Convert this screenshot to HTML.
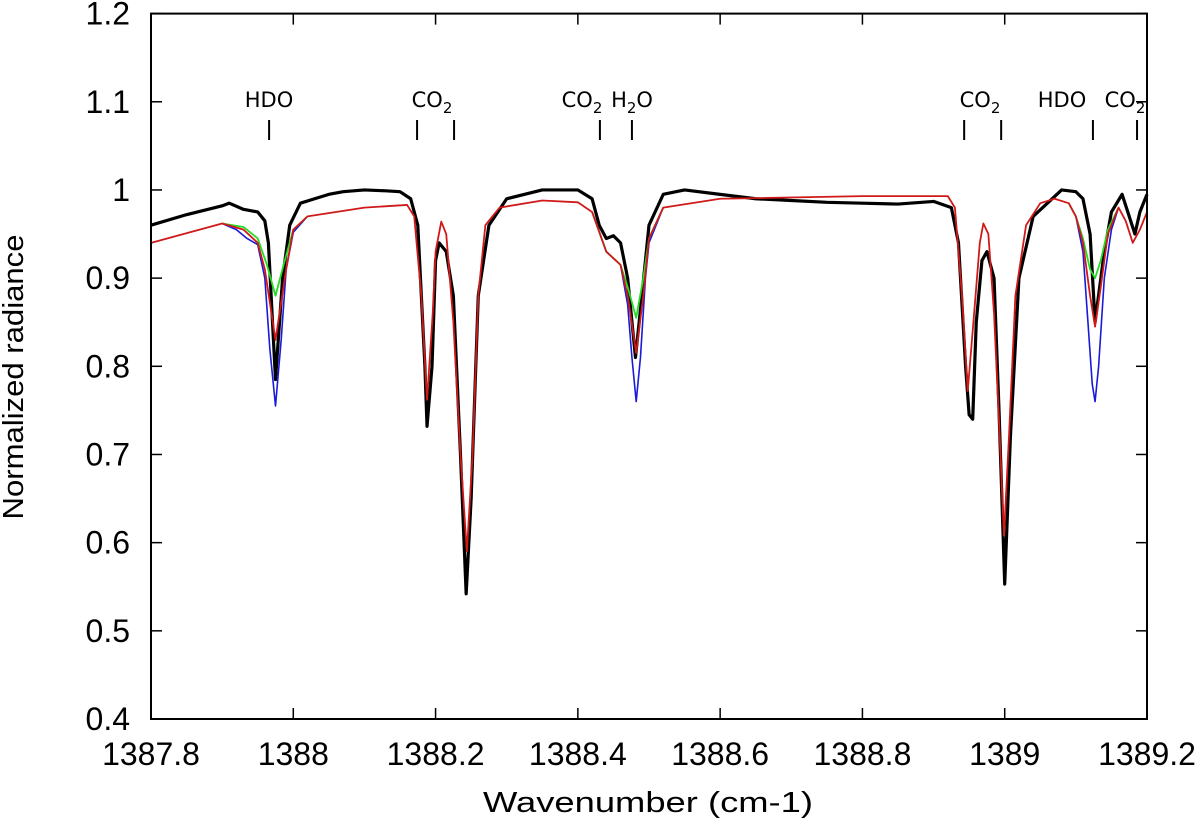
<!DOCTYPE html>
<html><head><meta charset="utf-8"><style>
body{margin:0;background:#fff;}
svg{display:block;font-family:"Liberation Sans",sans-serif;}
.ann{font-family:"DejaVu Sans","Liberation Sans",sans-serif;font-size:21px;}
</style></head><body>
<svg id="chart" width="1200" height="826" viewBox="0 0 1200 826" xmlns="http://www.w3.org/2000/svg">
<g id="series"></g>
<g id="axes"></g>
<g id="ann"></g>
</svg>
<script>
const xTicks=[1387.8,1388,1388.2,1388.4,1388.6,1388.8,1389,1389.2];
const xTickLabels=["1387.8","1388","1388.2","1388.4","1388.6","1388.8","1389","1389.2"];
const yTicks=[0.4,0.5,0.6,0.7,0.8,0.9,1,1.1,1.2];
const yTickLabels=["0.4","0.5","0.6","0.7","0.8","0.9","1","1.1","1.2"];
const obsX=[1387.8,1387.85,1387.9,1387.91,1387.93,1387.95,1387.96,1387.965,1387.975,1387.985,1387.995,1388.01,1388.03,1388.05,1388.07,1388.1,1388.13,1388.15,1388.165,1388.175,1388.185,1388.188,1388.195,1388.2,1388.205,1388.215,1388.225,1388.235,1388.243,1388.25,1388.26,1388.275,1388.3,1388.35,1388.4,1388.42,1388.43,1388.44,1388.45,1388.46,1388.47,1388.481,1388.49,1388.5,1388.52,1388.55,1388.6,1388.65,1388.7,1388.75,1388.8,1388.85,1388.9,1388.925,1388.935,1388.945,1388.95,1388.955,1388.96,1388.968,1388.975,1388.985,1388.992,1389.0,1389.008,1389.02,1389.04,1389.06,1389.08,1389.1,1389.11,1389.12,1389.127,1389.14,1389.15,1389.165,1389.175,1389.183,1389.19,1389.2];
const obsY=[0.96,0.972,0.982,0.985,0.978,0.975,0.965,0.94,0.785,0.9,0.96,0.985,0.99,0.995,0.998,1.0,0.999,0.998,0.99,0.96,0.8,0.732,0.8,0.92,0.94,0.93,0.88,0.7,0.542,0.65,0.88,0.96,0.99,1.0,1.0,0.99,0.96,0.945,0.948,0.94,0.9,0.81,0.88,0.96,0.995,1.0,0.995,0.99,0.988,0.986,0.985,0.984,0.987,0.98,0.94,0.8,0.745,0.74,0.85,0.92,0.93,0.9,0.75,0.553,0.72,0.9,0.97,0.985,1.0,0.998,0.99,0.95,0.85,0.93,0.975,0.995,0.97,0.95,0.975,0.995];
const redX=[1387.8,1387.9,1387.93,1387.95,1387.96,1387.975,1387.99,1388.0,1388.02,1388.1,1388.16,1388.17,1388.18,1388.188,1388.196,1388.2,1388.208,1388.215,1388.225,1388.235,1388.244,1388.252,1388.26,1388.27,1388.29,1388.35,1388.4,1388.42,1388.44,1388.46,1388.47,1388.482,1388.492,1388.5,1388.52,1388.6,1388.8,1388.92,1388.93,1388.94,1388.948,1388.956,1388.965,1388.97,1388.977,1388.985,1388.993,1388.999,1389.006,1389.015,1389.03,1389.05,1389.07,1389.09,1389.1,1389.11,1389.12,1389.127,1389.135,1389.145,1389.16,1389.17,1389.18,1389.19,1389.2];
const redY=[0.94,0.962,0.955,0.94,0.91,0.83,0.91,0.955,0.97,0.98,0.983,0.97,0.88,0.762,0.86,0.93,0.964,0.95,0.85,0.7,0.59,0.7,0.88,0.96,0.98,0.988,0.986,0.975,0.93,0.915,0.88,0.815,0.88,0.945,0.98,0.99,0.993,0.993,0.98,0.88,0.772,0.85,0.94,0.962,0.95,0.86,0.72,0.608,0.72,0.88,0.96,0.985,0.99,0.985,0.97,0.94,0.88,0.845,0.89,0.95,0.98,0.965,0.94,0.955,0.975];
const greenX=[1387.9,1387.93,1387.95,1387.963,1387.975,1387.988,1388.0,1388.02,null,1388.42,1388.44,1388.46,1388.47,1388.482,1388.492,1388.5,1388.52,null,1389.09,1389.1,1389.11,1389.12,1389.127,1389.135,1389.145,1389.16];
const greenY=[0.962,0.958,0.945,0.915,0.88,0.92,0.955,0.97,null,0.975,0.93,0.915,0.89,0.855,0.9,0.945,0.98,null,0.985,0.97,0.945,0.91,0.9,0.92,0.955,0.98];
const blueX=[1387.9,1387.92,1387.935,1387.95,1387.96,1387.967,1387.975,1387.983,1387.99,1388.0,1388.02,null,1388.42,1388.44,1388.46,1388.47,1388.476,1388.482,1388.488,1388.495,1388.5,1388.52,null,1389.09,1389.1,1389.11,1389.117,1389.123,1389.127,1389.132,1389.14,1389.15,1389.16];
const blueY=[0.962,0.955,0.945,0.938,0.9,0.82,0.755,0.83,0.91,0.952,0.97,null,0.975,0.93,0.915,0.87,0.81,0.76,0.81,0.9,0.94,0.98,null,0.985,0.97,0.93,0.85,0.78,0.76,0.8,0.9,0.955,0.98];
const annTicks=[1387.966,1388.174,1388.226,1388.431,1388.476,1388.943,1388.995,1389.124,1389.186];

const L=151,R=1147,T=13.6,B=719;
const xs=v=>L+(v-1387.8)/1.4*(R-L);
const ys=v=>B-(v-0.4)/0.8*(B-T);
const NS="http://www.w3.org/2000/svg";
function mk(tag,attrs,parent){const e=document.createElementNS(NS,tag);for(const k in attrs)e.setAttribute(k,attrs[k]);parent.appendChild(e);return e;}
const axes=document.getElementById('axes'),ser=document.getElementById('series'),ann=document.getElementById('ann');

function line(xa,ya,color,w,name){
  let d='',pen=false;
  xa.forEach((x,i)=>{
    if(x===null){pen=false;return;}
    d+=(pen?'L':'M')+xs(x).toFixed(2)+','+ys(ya[i]).toFixed(2)+' ';pen=true;
  });
  const p=mk('path',{d:d,fill:'none',stroke:color,'stroke-width':w,'stroke-linejoin':'round'},ser);
  
  
}
line(obsX,obsY,'#000',3.2,'observed-spectrum-line');
line(blueX,blueY,'#1a1ad8',1.6,'model-blue-line');
line(greenX,greenY,'#22dd22',1.8,'model-green-line');
line(redX,redY,'#d01a1a',1.8,'model-red-line');

const frame=mk('rect',{x:L,y:T,width:R-L,height:B-T,fill:'none',stroke:'#000','stroke-width':2},axes);


xTicks.forEach((v,i)=>{
  const x=xs(v);
  mk('line',{x1:x,x2:x,y1:B,y2:B-11,stroke:'#000','stroke-width':1.5},axes);
  mk('line',{x1:x,x2:x,y1:T,y2:T+11,stroke:'#000','stroke-width':1.5},axes);
  const t=mk('text',{x:x,y:765,'text-anchor':'middle','font-size':32},axes);
  t.textContent=xTickLabels[i];
  
  
});
yTicks.forEach((v,i)=>{
  const y=ys(v);
  mk('line',{x1:L,x2:L+11,y1:y,y2:y,stroke:'#000','stroke-width':1.5},axes);
  mk('line',{x1:R,x2:R-11,y1:y,y2:y,stroke:'#000','stroke-width':1.5},axes);
  const t=mk('text',{x:130,y:y+11,'text-anchor':'end','font-size':32},axes);
  t.textContent=yTickLabels[i];
  
  
});
const xt=mk('text',{x:648,y:812,'text-anchor':'middle','font-size':29,textLength:330,lengthAdjust:'spacingAndGlyphs'},axes);
xt.textContent='Wavenumber (cm-1)';


const yt=mk('text',{x:0,y:0,'text-anchor':'middle','font-size':29,textLength:285,lengthAdjust:'spacingAndGlyphs',transform:'translate(23,377) rotate(-90)'},axes);
yt.textContent='Normalized radiance';



annTicks.forEach(v=>{
  const x=xs(v);
  const l=mk('line',{x1:x,x2:x,y1:120,y2:140,stroke:'#000','stroke-width':2},ann);
  
  
});
const annDefs=[[269,'HDO',''],[432,'CO','2'],[582,'CO','2'],[980,'CO','2'],[1062,'HDO',''],[1125,'CO','2']];
annDefs.forEach(a=>{
  const t=mk('text',{x:a[0],y:107,'text-anchor':'middle'},ann);
  t.setAttribute('class','ann');
  
  
  t.appendChild(document.createTextNode(a[1]));
  if(a[2]){const s=mk('tspan',{dy:6,'font-size':15},t);s.textContent=a[2];}
});
const h=mk('text',{x:632,y:107,'text-anchor':'middle'},ann);
h.setAttribute('class','ann');


h.appendChild(document.createTextNode('H'));
const s2=mk('tspan',{dy:6,'font-size':15},h);s2.textContent='2';
const s3=mk('tspan',{dy:-6},h);s3.textContent='O';
</script>
</body></html>
